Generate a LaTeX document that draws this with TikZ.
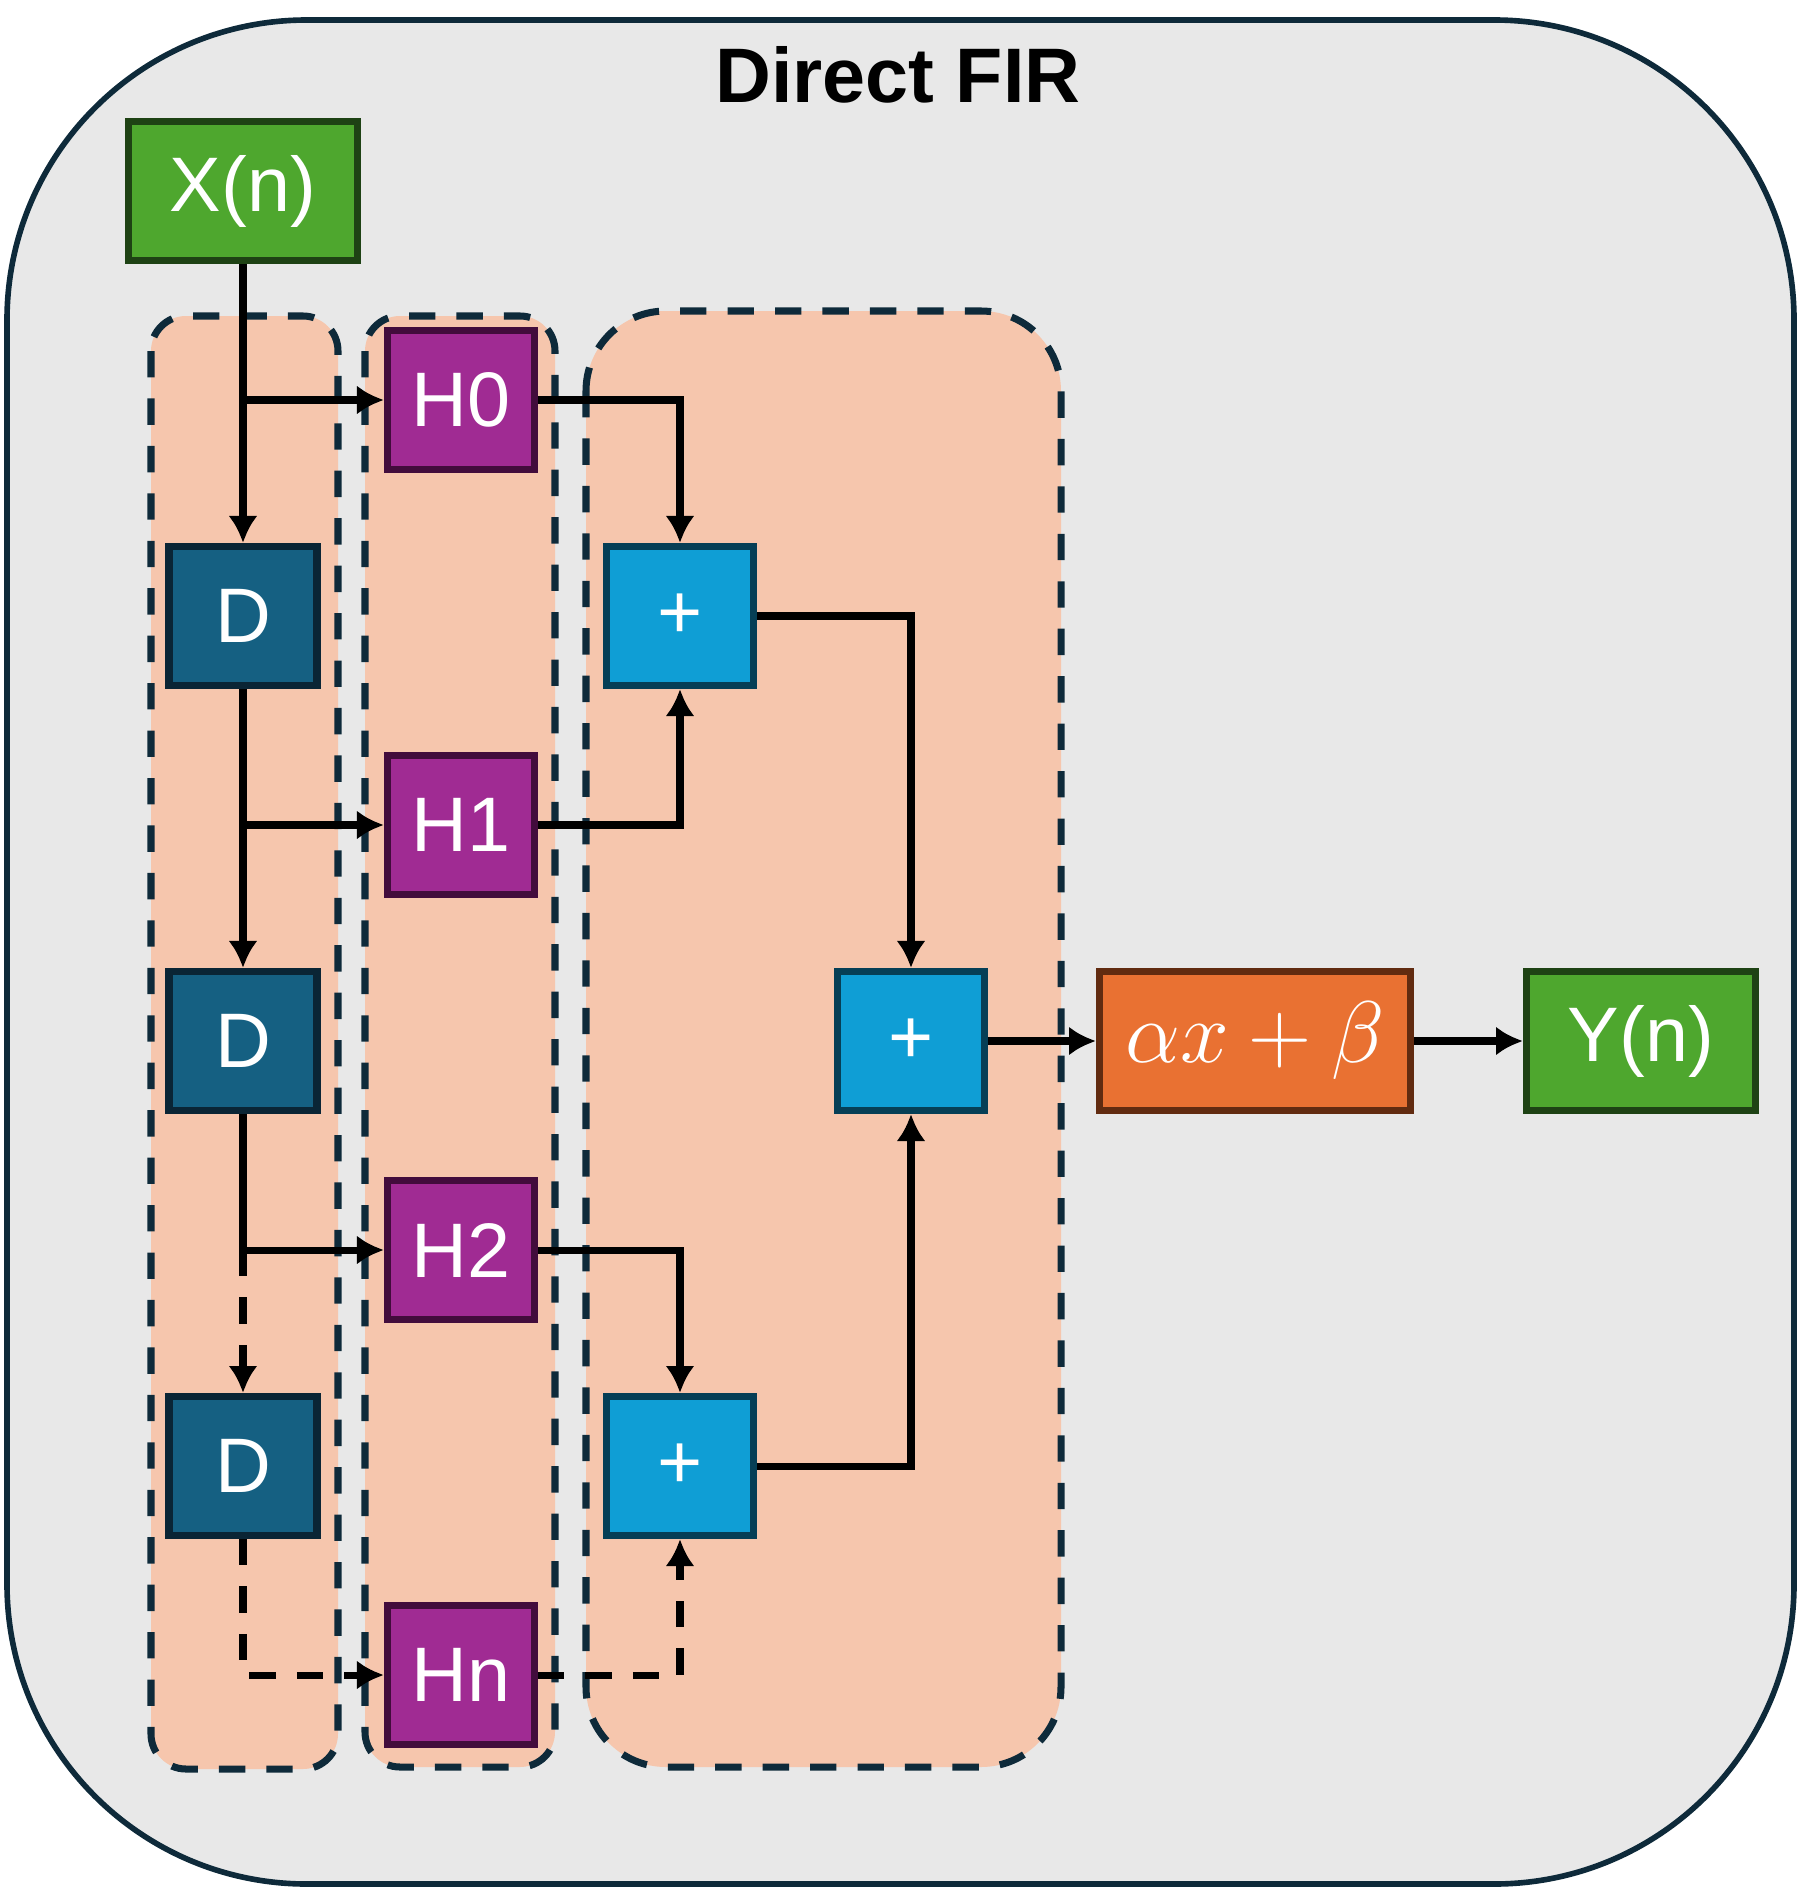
\documentclass[tikz,border=0pt]{standalone}
\usepackage{amsmath}
\usepackage{fontspec}
\setmainfont{Liberation Sans}
\usepackage{tikz}
\usetikzlibrary{positioning, arrows.meta}
\definecolor{panelgray}{HTML}{E8E8E8}
\definecolor{panelline}{HTML}{0E2A3A}
\definecolor{peach}{HTML}{F6C6AD}
\definecolor{xgreen}{HTML}{4EA72E}
\definecolor{xgreenline}{HTML}{1E4214}
\definecolor{dblue}{HTML}{156082}
\definecolor{dblueline}{HTML}{0A2535}
\definecolor{hpurple}{HTML}{A02B93}
\definecolor{hpurpleline}{HTML}{420C3C}
\definecolor{sumblue}{HTML}{0F9ED5}
\definecolor{sumblueline}{HTML}{063F56}
\definecolor{affine}{HTML}{E97132}
\definecolor{affineline}{HTML}{612B10}
\tikzset{
	>={Latex[length=2.7mm,width=2.9mm]}, % filled triangle heads
	node distance=4.25cm, % spacing of the tap rows, centre to centre
	block/.style={draw, line width=2pt, text=white, inner sep=0pt, minimum height=1.39cm, font=\fontsize{22}{26}\selectfont}, % every box
	signal/.style={block, fill=xgreen, draw=xgreenline, minimum width=2.29cm}, % input and output
	delay/.style={block, fill=dblue, draw=dblueline, minimum width=1.48cm},
	tap/.style={block, fill=hpurple, draw=hpurpleline, minimum width=1.47cm},
	adder/.style={block, fill=sumblue, draw=sumblueline, minimum width=1.47cm},
	scaler/.style={block, fill=affine, draw=affineline, minimum width=3.11cm, font=\fontsize{25}{29}\selectfont},
	tapgroup/.style={fill=peach, draw=panelline, line width=2pt, dash pattern=on 7.5pt off 6pt}, % dashed backdrops
	wire/.style={->, line width=2pt},
	dwire/.style={wire, dash pattern=on 7.5pt off 6pt}, % the n-th tap
}
\begin{document}
\begin{tikzpicture}
	\useasboundingbox (0,0) rectangle (17.99,-18.91);
	% outer panel
	\draw[fill=panelgray, draw=panelline, line width=1.6pt, rounded corners=3cm] (0.07,-0.2) rectangle (17.94,-18.84);
	\node[font=\bfseries\fontsize{22}{26}\selectfont] (title) at (8.98,-0.75) {Direct FIR};
	% dashed groups
	\draw[tapgroup, rounded corners=0.35cm] (1.51,-3.16) rectangle (3.38,-17.69);
	\draw[tapgroup, rounded corners=0.35cm] (3.65,-3.16) rectangle (5.55,-17.67);
	\draw[tapgroup, rounded corners=0.8cm] (5.86,-3.11) rectangle (10.61,-17.67);

	\node[signal] (x) at (2.43,-1.91) {X(n)};
	\node[delay, below of=x] (d1) {D};
	\node[delay, below of=d1] (d2) {D};
	\node[delay, below of=d2] (d3) {D};
	\node[tap] (h0) at (4.61,-4.00) {H0};
	\node[tap, below of=h0] (h1) {H1};
	\node[tap, below of=h1] (h2) {H2};
	\node[tap, below of=h2] (hn) {Hn};
	\node[adder, node distance=4.37cm, right of=d1] (s1) {+};
	\node[adder, node distance=4.37cm, right of=d3] (s3) {+};
	\node[adder, node distance=6.68cm, right of=d2] (s2) {+};
	\node[scaler, node distance=3.44cm, right of=s2] (ab) {$\alpha x+\beta$};
	\node[signal, node distance=3.86cm, right of=ab] (y) {Y(n)};

	\draw[wire] (x) -- (d1);
	\draw[wire] (h0 -| x) -- (h0);
	\draw[wire] (d1) -- (d2);
	\draw[wire] (h1 -| d1) -- (h1);
	\draw[line width=2pt] (d2) -- (h2 -| d2);
	\draw[wire] (h2 -| d2) -- (h2);
	\draw[dwire] (h2 -| d2) -- (d3);
	\draw[dwire] (d3) |- (hn);
	\draw[wire] (h0) -| (s1);
	\draw[wire] (h1) -| (s1);
	\draw[wire] (h2) -| (s3);
	\draw[dwire] (hn) -| (s3);
	\draw[wire] (s1) -| (s2);
	\draw[wire] (s3) -| (s2);
	\draw[wire] (s2) -- (ab);
	\draw[wire] (ab) -- (y);
\end{tikzpicture}
\end{document}
